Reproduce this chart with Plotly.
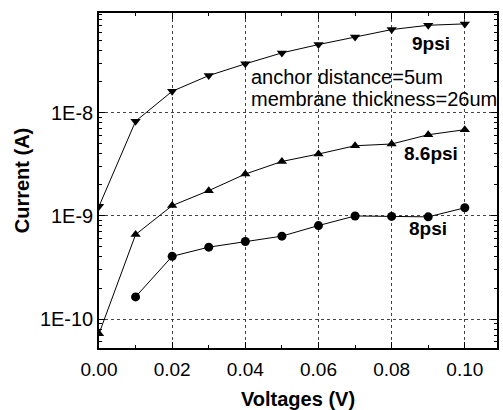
import plotly.graph_objects as go

voltages_9 = [0.00, 0.01, 0.02, 0.03, 0.04, 0.05, 0.06, 0.07, 0.08, 0.09, 0.10]
current_9psi = [1.24e-9, 8.3e-9, 1.62e-8, 2.3e-8, 2.99e-8, 3.82e-8, 4.6e-8, 5.46e-8, 6.43e-8, 7.08e-8, 7.3e-8]

voltages_86 = [0.00, 0.01, 0.02, 0.03, 0.04, 0.05, 0.06, 0.07, 0.08, 0.09, 0.10]
current_86psi = [7.2e-11, 6.6e-10, 1.26e-9, 1.76e-9, 2.55e-9, 3.38e-9, 3.99e-9, 4.8e-9, 4.99e-9, 6.14e-9, 6.87e-9]

voltages_8 = [0.01, 0.02, 0.03, 0.04, 0.05, 0.06, 0.07, 0.08, 0.09, 0.10]
current_8psi = [1.64e-10, 4.06e-10, 4.98e-10, 5.65e-10, 6.37e-10, 8.07e-10, 1.0e-9, 0.99e-9, 0.98e-9, 1.2e-9]

x_tick_vals = [0.00, 0.02, 0.04, 0.06, 0.08, 0.10]
x_tick_text = ["0.00", "0.02", "0.04", "0.06", "0.08", "0.10"]
x_minor_vals = [0.01, 0.03, 0.05, 0.07, 0.09]
y_tick_vals = [1e-10, 1e-9, 1e-8]
y_tick_text = ["1E-10", "1E-9", "1E-8"]
y_minor_vals = [m * 10.0 ** e for e in (-11, -10, -9, -8) for m in range(2, 10)]

FONT = "Arial, Liberation Sans, sans-serif"

fig = go.Figure()
for xs, ys, sym in [(voltages_9, current_9psi, "triangle-down"),
                    (voltages_86, current_86psi, "triangle-up"),
                    (voltages_8, current_8psi, "circle")]:
    fig.add_trace(go.Scatter(x=xs, y=ys, mode="lines+markers",
                             line=dict(color="black", width=1),
                             marker=dict(symbol=sym, size=9, color="black"),
                             showlegend=False))

axis_common = dict(showline=True, linecolor="black", linewidth=1.5, mirror="ticks",
                   ticks="inside", ticklen=6, tickwidth=1.2, tickcolor="black",
                   showgrid=True, gridcolor="#444444", griddash="dot", gridwidth=1,
                   zeroline=False, automargin=False)

fig.update_xaxes(range=[0, 0.1088], tickmode="array", tickvals=x_tick_vals, ticktext=x_tick_text,
                 tickfont=dict(family=FONT, size=19, color="black"), ticklabelstandoff=3,
                 minor=dict(tickmode="array", tickvals=x_minor_vals, ticks="inside", ticklen=3,
                            tickcolor="black", showgrid=False),
                 title=dict(text="<b>Voltages (V)</b>", font=dict(family=FONT, size=20, color="black"), standoff=16),
                 **axis_common)
fig.update_yaxes(type="log", range=[-10.281, -7.031], tickmode="array", tickvals=y_tick_vals, ticktext=y_tick_text,
                 tickfont=dict(family=FONT, size=20, color="black"),
                 minor=dict(tickmode="array", tickvals=y_minor_vals, ticks="inside", ticklen=3,
                            tickcolor="black", showgrid=False),
                 title=dict(text="<b>Current (A)</b>", font=dict(family=FONT, size=20, color="black"), standoff=5),
                 **axis_common)

annots = [
    dict(x=0.0412, y=-7.648, text="anchor distance=5um", xanchor="left", bold=False),
    dict(x=0.0412, y=-7.866, text="membrane thickness=26um", xanchor="left", bold=False),
    dict(x=0.0907, y=-7.325, text="9psi", xanchor="center", bold=True),
    dict(x=0.0907, y=-8.391, text="8.6psi", xanchor="center", bold=True),
    dict(x=0.0898, y=-9.123, text="8psi", xanchor="center", bold=True),
]
for a in annots:
    txt = f"<b>{a['text']}</b>" if a["bold"] else a["text"]
    fig.add_annotation(x=a["x"], y=a["y"], xref="x", yref="y", text=txt, showarrow=False,
                       xanchor=a["xanchor"], yanchor="middle", borderpad=0,
                       font=dict(family=FONT, size=20 if not a["bold"] else 19, color="black"))

fig.update_layout(width=503, height=410, margin=dict(l=99, r=6, t=13, b=62),
                  plot_bgcolor="white", paper_bgcolor="white",
                  font=dict(family=FONT, color="black"))

fig.write_html("out.html", config={"displayModeBar": False},
               post_script="document.body.style.margin='0';document.body.style.overflow='hidden';")
